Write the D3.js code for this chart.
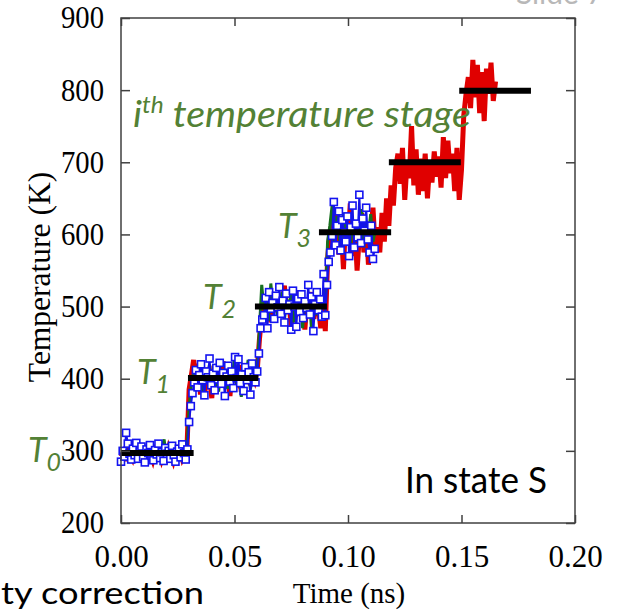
<!DOCTYPE html>
<html><head><meta charset="utf-8">
<script src="https://cdn.jsdelivr.net/npm/d3@7"></script>
<style>body{margin:0;background:#fff} svg{display:block}</style>
</head><body><svg id="c" width="617" height="615"></svg>
<script>
// ---- data ----
const xTicks = [0, 0.05, 0.10, 0.15, 0.20];
const xTickLabels = ["0.00", "0.05", "0.10", "0.15", "0.20"];
const yTicks = [200, 300, 400, 500, 600, 700, 800, 900];

// sampling intervals (ns) of the three trajectories
const redStep = 0.001;
const greenStep = 0.001;
const blueStep = 0.00075;

// Temperature (K) — red trajectory
const redValues = [
  292, 298, 286, 301, 295, 289, 303, 297, 284, 299, 293, 305, 290, 296, 287, 300, 294, 302, 288, 297, 291, 304, 295, 286, 299, 293, 301, 289, 296, 298,
  385,
  405, 426, 398, 421, 378, 408, 383, 415, 402, 373, 418, 387, 410, 399, 424, 392, 406, 376, 413, 401, 396, 419, 382, 409, 403, 414, 391, 407, 398, 411,
  455,
  488, 512, 497, 525, 478, 506, 493, 518, 485, 502, 529, 491, 509, 470, 515, 499, 522, 487, 505, 468, 511, 496, 520, 483, 508, 498, 470, 515, 466,
  565, 602,
  615, 590, 632, 572, 608, 552, 625, 585, 643, 570, 612, 550, 598, 630, 575, 618, 558, 605, 637, 580,
  610, 575, 630, 590, 650, 612, 668, 640, 692,
  712, 670, 720, 648, 700, 678, 750, 668, 718, 655, 705, 660, 712, 650, 700, 672, 715, 680, 708, 665, 735, 678, 730, 685, 712, 660, 720, 648,
  690, 765,
  795, 818, 775, 842, 790, 835, 768, 825, 757, 830, 795, 838, 785, 812
];

// Temperature (K) — green trajectory
const greenValues = [
  300, 294, 305, 290, 298, 307, 293, 288, 301, 296, 309, 291, 299, 303, 287, 297, 306, 292, 300, 316, 289, 304, 298, 310, 293, 290, 301, 297, 305, 296,
  360,
  392, 408, 385, 415, 400, 378, 410, 395, 420, 388, 405, 398, 382, 412, 393, 402, 386, 418, 396, 432, 390, 404, 375, 410, 399, 426, 385, 407, 394, 410,
  470,
  530, 495, 512, 480, 532, 498, 515, 488, 505, 520, 482, 510, 495, 525, 478, 502, 490, 518, 470, 507, 496, 512, 465, 500, 488, 515, 493, 505, 498,
  590,
  612, 640, 585, 625, 600, 572, 630, 595, 615, 580, 622, 590, 610, 598, 635, 582, 618, 600, 628, 590, 605
];

// Temperature (K) — blue trajectory (open squares)
const blueValues = [
  285, 300, 292, 325, 310, 296, 288, 303, 294, 311, 289, 299, 306, 291, 284, 302, 297, 308, 293, 287,
  301, 295, 310, 290, 298, 286, 304, 296, 300, 289, 307, 294, 285, 299, 303, 291, 309, 297, 288, 302,
  340, 362, 380,
  395, 412, 388, 405, 420, 398, 377, 410, 402, 428, 391, 407, 384, 415, 399, 422, 393, 408, 376, 403,
  418, 396, 410, 387, 430, 401, 427, 394, 406, 383, 416, 398, 409, 378, 421, 402, 395, 410,
  435, 470, 482,
  488, 512, 470, 520, 497, 505, 483, 515, 499, 527, 490, 508, 478, 518, 495, 503, 468, 522, 500, 472,
  511, 493, 517, 484, 507, 498, 530, 489, 514, 466, 503, 520, 495, 510, 486, 545, 488,
  530, 562, 575,
  598, 645, 585, 612, 632, 578, 620, 603, 590, 625, 570, 610, 640, 582, 615, 596, 655, 588, 622, 605,
  637, 593, 575, 612, 566, 580
];

// target temperature stages
const stageStart = [0.0000, 0.0295, 0.0590, 0.0872, 0.1180, 0.1490];
const stageEnd   = [0.0320, 0.0605, 0.0907, 0.1190, 0.1497, 0.1806];
const stageTemp  = [297, 401, 500, 603, 700, 799];

const stageLabelSubs = ["0", "1", "2", "3"];

// ---- chart ----
const svg = d3.select("#c");
const m = {left: 121, right: 575, top: 18, bottom: 523};

const x = d3.scaleLinear().domain([0, 0.2]).range([m.left, m.right]);
const y = d3.scaleLinear().domain([200, 900]).range([m.bottom, m.top]);

const serif = "'Liberation Serif', 'Times New Roman', serif";
const sans = "Lato, 'Open Sans', sans-serif";
const green = "#538135";

// Slide number (clipped at top, as in the source slide)
svg.append("text").attr("x", 516).attr("y", 4)
  .attr("font-family", sans).attr("font-size", 30).attr("fill", "#b8b8b8")
  .text("Slide 7");

const toPts = (vals, step) => vals.map((v, i) => [i * step, v]);
const line = d3.line().x(d => x(d[0])).y(d => y(d[1]));

const plot = svg.append("g");

plot.append("path").datum(toPts(redValues, redStep))
  .attr("d", line).attr("fill", "none").attr("stroke", "#e00000")
  .attr("stroke-width", 5);

plot.append("path").datum(toPts(greenValues, greenStep))
  .attr("d", line).attr("fill", "none").attr("stroke", "#17701f")
  .attr("stroke-width", 3);

const bluePts = toPts(blueValues, blueStep);
plot.append("path").datum(bluePts)
  .attr("d", line).attr("fill", "none").attr("stroke", "#1414e6")
  .attr("stroke-width", 2);

const sq = 7;
plot.selectAll("rect.sq").data(bluePts).enter().append("rect")
  .attr("class", "sq")
  .attr("x", d => x(d[0]) - sq / 2).attr("y", d => y(d[1]) - sq / 2)
  .attr("width", sq).attr("height", sq)
  .attr("fill", "#fff").attr("stroke", "#1414f0").attr("stroke-width", 1.6);

// stage target lines
plot.selectAll("line.stage").data(stageTemp).enter().append("line")
  .attr("class", "stage")
  .attr("x1", (d, i) => x(stageStart[i])).attr("x2", (d, i) => x(stageEnd[i]))
  .attr("y1", d => y(d)).attr("y2", d => y(d))
  .attr("stroke", "#000").attr("stroke-width", 6);

// frame
svg.append("rect").attr("x", m.left).attr("y", m.top)
  .attr("width", m.right - m.left).attr("height", m.bottom - m.top)
  .attr("fill", "none").attr("stroke", "#404040").attr("stroke-width", 1.5);

// axes
const styleAxis = g => {
  g.select(".domain").remove();
  g.selectAll(".tick line").attr("stroke", "#404040").attr("stroke-width", 1.5);
};
const xb = svg.append("g").attr("transform", `translate(0,${m.bottom})`)
  .call(d3.axisBottom(x).tickValues(xTicks).tickSizeInner(-8).tickSizeOuter(0)
    .tickPadding(0).tickFormat((d, i) => xTickLabels[i]));
styleAxis(xb);
xb.selectAll(".tick text").attr("y", 44).attr("dy", 0)
  .attr("font-family", serif).attr("font-size", 31).attr("fill", "#000");

const xt = svg.append("g").attr("transform", `translate(0,${m.top})`)
  .call(d3.axisTop(x).tickValues(xTicks).tickSizeInner(-8).tickSizeOuter(0).tickFormat(""));
styleAxis(xt);

const yl = svg.append("g").attr("transform", `translate(${m.left},0)`)
  .call(d3.axisLeft(y).tickValues(yTicks).tickSizeInner(-9).tickSizeOuter(0)
    .tickPadding(17).tickFormat(d3.format("d")));
styleAxis(yl);
yl.selectAll(".tick text").attr("font-family", serif).attr("font-size", 31).attr("fill", "#000")
  .attr("textLength", 43).attr("lengthAdjust", "spacingAndGlyphs");

const yr = svg.append("g").attr("transform", `translate(${m.right},0)`)
  .call(d3.axisRight(y).tickValues(yTicks).tickSizeInner(-9).tickSizeOuter(0).tickFormat(""));
styleAxis(yr);

// axis titles
svg.append("text").attr("transform", "translate(50,277) rotate(-90)")
  .attr("text-anchor", "middle").attr("font-family", serif).attr("font-size", 31.5)
  .text("Temperature (K)");
svg.append("text").attr("x", 349).attr("y", 603)
  .attr("text-anchor", "middle").attr("font-family", serif).attr("font-size", 29)
  .text("Time (ns)");

// partial caption at bottom left
svg.append("text").attr("x", 1).attr("y", 604)
  .attr("font-family", sans).attr("font-size", 30).attr("fill", "#000")
  .attr("textLength", 203).attr("lengthAdjust", "spacingAndGlyphs")
  .text("ty correction");

// annotations
const stageLbl = svg.append("text").attr("x", 133).attr("y", 127)
  .attr("font-family", sans).attr("font-style", "italic").attr("font-size", 37).attr("fill", green)
  .attr("textLength", 338).attr("lengthAdjust", "spacingAndGlyphs");
stageLbl.append("tspan").text("i");
stageLbl.append("tspan").attr("font-size", 23).attr("dy", -14).text("th");
stageLbl.append("tspan").attr("dy", 14).text(" temperature stage");

const tPos = [[28, 462], [137, 384], [203, 309], [278, 238]];
stageLabelSubs.forEach((s, i) => {
  const t = svg.append("text").attr("x", tPos[i][0]).attr("y", tPos[i][1])
    .attr("font-family", sans).attr("font-style", "italic").attr("font-size", 34).attr("fill", green);
  t.append("tspan").text("T");
  t.append("tspan").attr("font-size", 25).attr("dy", 9).text(s);
});

svg.append("text").attr("x", 405).attr("y", 493)
  .attr("font-family", sans).attr("font-size", 36).attr("fill", "#000")
  .attr("textLength", 142).attr("lengthAdjust", "spacingAndGlyphs")
  .text("In state S");
</script>
</body></html>
